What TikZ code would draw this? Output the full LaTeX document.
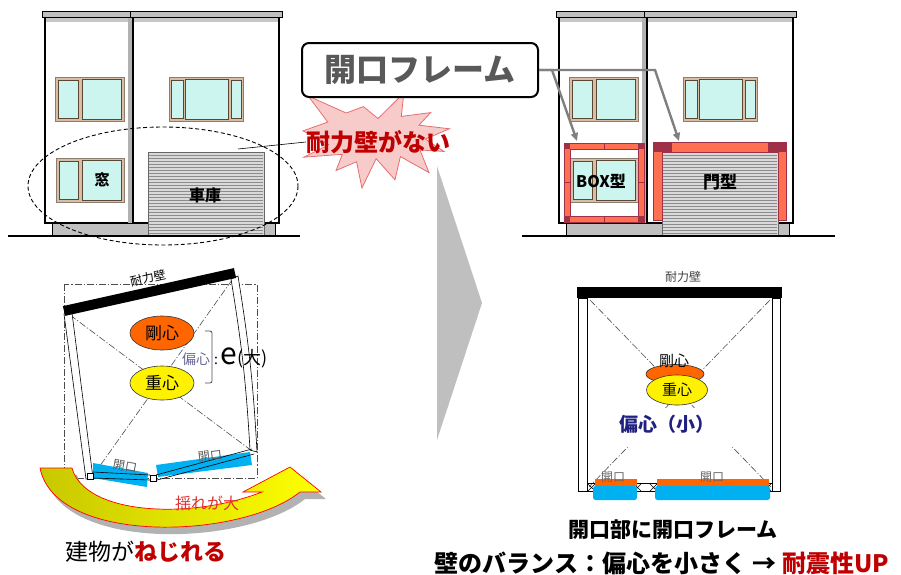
\documentclass[tikz,border=0pt]{standalone}
\usepackage{fontspec}
\setmainfont{Noto Sans CJK JP}
\usetikzlibrary{arrows.meta,shapes.geometric,shadows}

\definecolor{paneblue}{RGB}{204,245,240}
\definecolor{wintan}{RGB}{215,190,165}
\definecolor{winedge}{RGB}{90,70,50}
\definecolor{roofgray}{RGB}{192,192,192}
\definecolor{doorgray}{RGB}{217,217,217}
\definecolor{frameorange}{RGB}{255,112,80}
\definecolor{framedark}{RGB}{160,48,72}
\definecolor{openblue}{RGB}{0,176,240}
\definecolor{darkred}{RGB}{192,0,0}
\definecolor{navy}{RGB}{32,32,128}
\definecolor{starpink}{RGB}{248,203,203}
\definecolor{starred}{RGB}{230,110,110}
\definecolor{kgorange}{RGB}{255,102,0}
\definecolor{olivey}{RGB}{200,200,0}
\definecolor{swayred}{RGB}{220,50,50}

\newcommand{\fsz}[1]{\fontsize{#1}{#1}\selectfont}

\begin{document}
\begin{tikzpicture}[x=1pt, y=-1pt,
    pane/.style={fill=paneblue, draw=winedge, line width=0.8},
    sash/.style={fill=wintan, draw=winedge!70, line width=0.6},
    shutter/.style={fill=doorgray, draw=black!60, line width=0.6},
    dashdot/.style={draw=black!70, line width=0.6, dash pattern=on 7pt off 2pt on 1.2pt off 2pt},
    pointer/.style={draw=black!50, line width=2.4, -{Triangle[length=8pt,width=7pt]}},
    boldlbl/.style={inner sep=0pt, font=\bfseries\fsz{#1}},
    lbl/.style={inner sep=0pt, font=\fsz{#1}},
    spot/.style={ellipse, draw=black!80, line width=0.6, inner sep=0pt}]
  \useasboundingbox (0,0) rectangle (901,574);

  % two houses, same shell
  \foreach \dx in {0,514} {
    \begin{scope}[shift={(\dx,0)}]
      % walls
      \draw[fill=white, line width=1.3] (45,17) rectangle (279,223);
      \fill[black!22] (46,18) rectangle (278,22);
      \fill[black!30] (128,18) rectangle (133,223);
      \draw[line width=1.3] (133,17) -- (133,223);
      % roof
      \draw[fill=roofgray, line width=1] (42,11) rectangle (282,17);
      \draw[line width=0.8] (130,11) -- (130,17);
      % foundation
      \draw[fill=roofgray, line width=0.8] (52,223) rectangle (275,236);
      % windows
      \draw[sash] (55,77) rectangle (124,121);
      \draw[pane] (58,80) rectangle (78,118);
      \draw[pane] (82,79) rectangle (121,119);
      \draw[sash] (169,77) rectangle (243,121);
      \draw[pane] (171,80) rectangle (183,118);
      \draw[pane] (185,79) rectangle (228,119);
      \draw[pane] (231,80) rectangle (241,118);
      \draw[sash] (56,158) rectangle (124,202);
      \draw[pane] (59,161) rectangle (78,199);
      \draw[pane] (82,160) rectangle (121,200);
      % garage shutter
      \draw[shutter] (148,152) rectangle (264,236);
      \foreach \y in {155,158,...,234}
        \draw[black!45, line width=0.4] (149,\y) -- (263,\y);
    \end{scope}
  }

  % ground
  \draw[line width=1.6] (8,236) -- (300,236);
  \draw[line width=1.6] (522,236) -- (835,236);

  \node[boldlbl=15] (mado) at (102,180) {窓};
  \node[boldlbl=16] (garage) at (205,195) {車庫};
  \draw[line width=0.9, dash pattern=on 4pt off 2.5pt] (163,186) ellipse [x radius=135, y radius=59];

  % BOX frame
  \fill[frameorange, even odd rule] (564,143) rectangle (644,222) (570,149) rectangle (638,216);
  \draw[framedark, line width=0.6] (564,143) rectangle (644,222) (570,149) rectangle (638,216);
  \foreach \cx/\cy in {564/143, 638/143, 564/216, 638/216}
    \fill[framedark] (\cx,\cy) rectangle ++(6,6);
  \draw[framedark, line width=0.6] (604,143) -- (604,149) (604,216) -- (604,222)
    (564,182) -- (570,182) (638,182) -- (644,182);

  % gate frame
  \fill[frameorange] (653,220) -- (653,142) -- (786,142) -- (786,220) -- (778,220)
    -- (778,152) -- (662,152) -- (662,220) -- cycle;
  \fill[framedark] (653,142) rectangle (672,152);
  \fill[framedark] (768,142) rectangle (786,152);
  \draw[framedark, line width=0.6] (653,220) -- (653,142) -- (786,142) -- (786,220) -- (778,220)
    -- (778,152) -- (662,152) -- (662,220) -- cycle;

  \node[boldlbl=16] (boxtype) at (601,181) {BOX型};
  \node[boldlbl=17] (gatetype) at (720,182) {門型};

  % burst
  \begin{scope}[shift={(303,93)}, xscale=1.5, yscale=0.95]
    \draw[fill=starpink, draw=starred, line width=0.8]
      (50,26.85) -- (67.23,0) -- (65.53,24.65) -- (85.09,20.63) -- (77.32,33.87)
      -- (97.67,37.67) -- (81.51,48.5) -- (94.03,61.53) -- (77.95,59.92)
      -- (84,83.77) -- (64.91,66.93) -- (61.33,91.38) -- (48.76,69.14)
      -- (39.28,100) -- (35.72,72.35) -- (22.05,81.56) -- (26.24,64.52)
      -- (0.63,67.53) -- (17.23,54.51) -- (0,39.88) -- (16.51,30.63)
      -- (3.48,3.15) -- (28.82,21.09) -- (40.26,14.29) -- cycle;
  \end{scope}
  \node[boldlbl=24, text=darkred] (nowall) at (378,142) {耐力壁がない};
  \coordinate (wallpt) at (238,149);
  \draw[line width=0.6] (wallpt) -- (nowall.west);

  % callout
  \node[draw, rounded corners=7, line width=2, fill=white, minimum width=236,
    minimum height=54, inner sep=0pt, text=black!65, font=\bfseries\fsz{32}] (frame) at (420,70) {開口フレーム};
  \coordinate (boxtip) at (577,141);
  \coordinate (gatetip) at (679,141);
  \draw[pointer] (frame.east) -- (552,70) -- (boxtip);
  \draw[pointer] (frame.east) -- (655,70) -- (gatetip);

  % big arrow
  \fill[black!25] (437,166) -- (482,303) -- (437,440) -- cycle;

  % twisted plan
  \draw[dashdot] (64,284) rectangle (257,478);
  \draw[dashdot] (70,315) -- (252,451);
  \draw[dashdot] (232,280) -- (92,477);
  \fill[openblue] (93,463) -- (148,473) -- (147,487) -- (93,478) -- cycle;
  \fill[openblue] (156,465) -- (250,452) -- (252,465) -- (158,477) -- cycle;
  \draw[fill=white, line width=0.6] (64,314) -- (72,313) -- (93,478) -- (86,479) -- cycle;
  \draw[fill=white, line width=0.6] (231,279) -- (238,276) to[bend left=3] (257,452)
    -- (250,450) to[bend right=3] (231,279);
  \draw[line width=0.6] (93,472) -- (150,475) (93,478) -- (150,480);
  \draw[line width=0.6] (156,475) -- (252,449) (157,480) -- (254,454);
  \draw[fill=white, line width=0.5] (150,475) rectangle (156,481);
  \draw[fill=white, line width=0.5] (87,473) rectangle (93,479);
  \draw[line width=10] (64,311) -- (235,273);
  \node[lbl=12, rotate=13] (wallL) at (148,278) {耐力壁};
  \node[lbl=12, rotate=-10, text=black!65] (openL1) at (125,466) {開口};
  \node[lbl=12, rotate=7, text=black!65] (openL2) at (210,456) {開口};
  \node[spot, fill=kgorange, minimum width=64, minimum height=34, font=\fsz{17}] (stiffL) at (162,333) {剛心};
  \node[spot, fill=yellow, minimum width=64, minimum height=34, font=\fsz{17}] (massL) at (162,383) {重心};
  \draw[black!70, line width=0.8, rounded corners=2] (205,331) -- (212,331) -- (212,383) -- (205,383);
  \node[lbl=14, fill=white, inner sep=1pt, text=black!70!blue!60] (eccL) at (196,359) {偏心};
  \node[lbl=14, anchor=west] (eccval) at (214,358) {:\,\fsz{30}e\fsz{18}(大)};

  % sway arrow
  \path[draw=red, line width=0.7, left color=olivey, right color=yellow,
    drop shadow={shadow xshift=5pt, shadow yshift=-7pt, fill=black!30, opacity=1}]
    (40,468) -- (72,468) .. controls (85,515) and (190,520) .. (262,492)
    -- (243,492) -- (290,467) -- (321,492) -- (300,492)
    .. controls (240,540) and (55,545) .. (40,468) -- cycle;
  \node[lbl=16, text=swayred] (sway) at (207,503) {揺れが大};
  \node[lbl=23] (twist) at (146,552) {建物が\textcolor{darkred}{\bfseries ねじれる}};

  % balanced plan
  \node[lbl=12, text=black!75] (wallR) at (683,277) {耐力壁};
  \fill (577,287) rectangle (782,298);
  \draw[fill=white, line width=0.6] (578,298) rectangle (587,491);
  \draw[fill=white, line width=0.6] (772,298) rectangle (780,491);
  \draw[dashdot] (590,300) -- (771,487);
  \draw[dashdot] (770,300) -- (589,487);
  \fill[white] (620,408) rectangle (740,447);
  \draw[line width=0.5] (587,483) -- (772,483) (578,491) -- (780,491);
  \foreach \bx in {588,634,650,764}
    \draw[line width=0.4] (\bx,484) -- ++(7,7) (\bx,491) -- ++(7,-7);
  \fill[kgorange] (595,479) rectangle (637,486);
  \fill[kgorange] (657,479) rectangle (769,486);
  \fill[openblue, rounded corners=2.5] (593,486) rectangle (637,500);
  \fill[openblue, rounded corners=2.5] (655,486) rectangle (770,500);
  \node[lbl=12, text=black!60] (openR1) at (613,477) {開口};
  \node[lbl=12, text=black!60] (openR2) at (712,477) {開口};
  \node[spot, fill=kgorange, minimum width=58, minimum height=19] (stiffR) at (675,374) {};
  \node[lbl=15] (stiffRlbl) at (674,361) {剛心};
  \node[spot, fill=yellow, minimum width=61, minimum height=30, font=\fsz{15}] (massR) at (677,390) {重心};
  \node[boldlbl=19, text=navy] (eccR) at (667,424) {偏心（小）};

  % captions
  \node[boldlbl=21] (fitframe) at (673,530) {開口部に開口フレーム};
  \node[boldlbl=24] (balance) at (662,563) {壁のバランス：偏心を小さく\hspace{6pt}→\hspace{6pt}\textcolor{darkred}{耐震性UP}};
\end{tikzpicture}
\end{document}
